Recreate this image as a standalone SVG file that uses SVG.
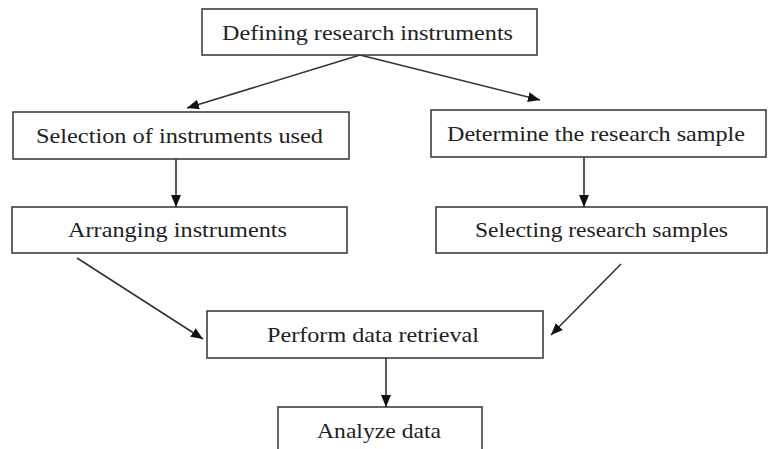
<svg xmlns="http://www.w3.org/2000/svg" width="769" height="449" viewBox="0 0 769 449">
<defs>
<style>
.box{fill:#fff;stroke:#333;stroke-width:1.5}
.t{font-family:"Liberation Serif","Times New Roman",serif;font-size:22px;fill:#222;text-anchor:middle}
.c{stroke:#333;stroke-width:1.6;fill:none;marker-end:url(#ah)}
</style>
<marker id="ah" viewBox="0 0 12 10" refX="12" refY="5" markerWidth="12" markerHeight="10" markerUnits="userSpaceOnUse" orient="auto">
<path d="M0,0 L12,5 L0,10 Z" fill="#111"/>
</marker>
</defs>
<rect width="769" height="449" fill="#fff"/>
<g id="connectors">
<line class="c" x1="360" y1="55" x2="187" y2="108"/>
<line class="c" x1="360" y1="55" x2="540" y2="100"/>
<line class="c" x1="176" y1="159" x2="176" y2="207"/>
<line class="c" x1="584" y1="157" x2="584" y2="207"/>
<line class="c" x1="77" y1="258" x2="203" y2="339"/>
<line class="c" x1="621" y1="264" x2="551" y2="335"/>
<line class="c" x1="386" y1="358" x2="386" y2="407"/>
</g>
<g id="n1"><rect class="box" x="202" y="9" width="335" height="46"/><text class="t" x="367.5" y="40" textLength="291" lengthAdjust="spacingAndGlyphs">Defining research instruments</text></g>
<g id="n2"><rect class="box" x="13" y="112" width="336" height="47"/><text class="t" x="179.5" y="143" textLength="287" lengthAdjust="spacingAndGlyphs">Selection of instruments used</text></g>
<g id="n3"><rect class="box" x="431" y="110" width="335" height="47"/><text class="t" x="596" y="141" textLength="298" lengthAdjust="spacingAndGlyphs">Determine the research sample</text></g>
<g id="n4"><rect class="box" x="12" y="207" width="335" height="46"/><text class="t" x="177.5" y="237" textLength="219" lengthAdjust="spacingAndGlyphs">Arranging instruments</text></g>
<g id="n5"><rect class="box" x="436" y="207" width="331" height="46"/><text class="t" x="601.5" y="237" textLength="253" lengthAdjust="spacingAndGlyphs">Selecting research samples</text></g>
<g id="n6"><rect class="box" x="207" y="311" width="336" height="47"/><text class="t" x="373" y="342" textLength="212" lengthAdjust="spacingAndGlyphs">Perform data retrieval</text></g>
<g id="n7"><rect class="box" x="278" y="407" width="204" height="50"/><text class="t" x="379" y="438" textLength="124" lengthAdjust="spacingAndGlyphs">Analyze data</text></g>
</svg>
